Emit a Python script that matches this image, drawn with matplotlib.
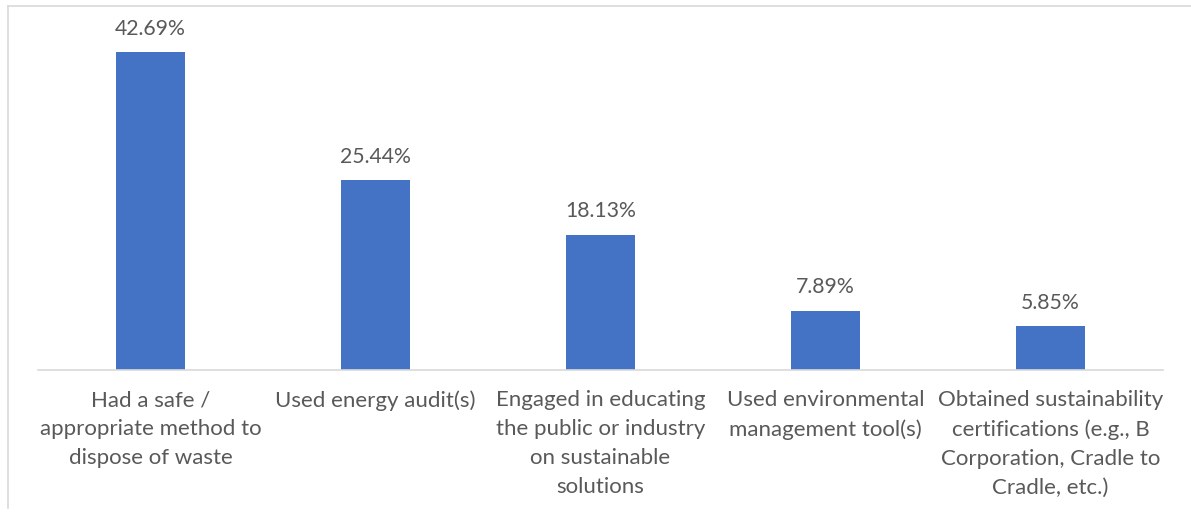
import matplotlib.pyplot as plt
from matplotlib.lines import Line2D

categories = [
    "Had a safe /\nappropriate method to\ndispose of waste",
    "Used energy audit(s)",
    "Engaged in educating\nthe public or industry\non sustainable\nsolutions",
    "Used environmental\nmanagement tool(s)",
    "Obtained sustainability\ncertifications (e.g., B\nCorporation, Cradle to\nCradle, etc.)",
]
values = [42.69, 25.44, 18.13, 7.89, 5.85]

plt.rcParams['font.family'] = ['Lato', 'DejaVu Sans']
text_color = '#595959'

W, H = 1191, 516
fig = plt.figure(figsize=(W / 100, H / 100), dpi=100)
ax = fig.add_axes([38 / W, (H - 369.5) / H, 1125 / W, (369.5 - 35) / H])

x = range(len(values))
bars = ax.bar(x, values, width=0.31, color='#4472C4')
for b, v in zip(bars, values):
    ax.text(b.get_x() + b.get_width() / 2, v + 1.8, f"{v:.2f}%",
            ha='center', va='bottom', fontsize=15.3, color=text_color)

ax.set_xlim(-0.5, 4.5)
ax.set_ylim(0, 45)
ax.set_xticks(list(x))
ax.set_xticklabels(categories, fontsize=16, color=text_color, linespacing=1.55)
ax.tick_params(axis='x', length=0, pad=15)
ax.set_yticks([])
for s in ['top', 'right', 'left']:
    ax.spines[s].set_visible(False)
ax.spines['bottom'].set_color('#D9D9D9')
ax.spines['bottom'].set_linewidth(1.2)

# outer chart frame (only top and left edges are visible in the crop)
fig.add_artist(Line2D([8 / W, 1], [1 - 6 / H, 1 - 6 / H], transform=fig.transFigure,
                      color='#D9D9D9', lw=1.2))
fig.add_artist(Line2D([8 / W, 8 / W], [1 - 6 / H, 1 - 508 / H], transform=fig.transFigure,
                      color='#D9D9D9', lw=1.2))

fig.savefig('out.png', dpi=100)
